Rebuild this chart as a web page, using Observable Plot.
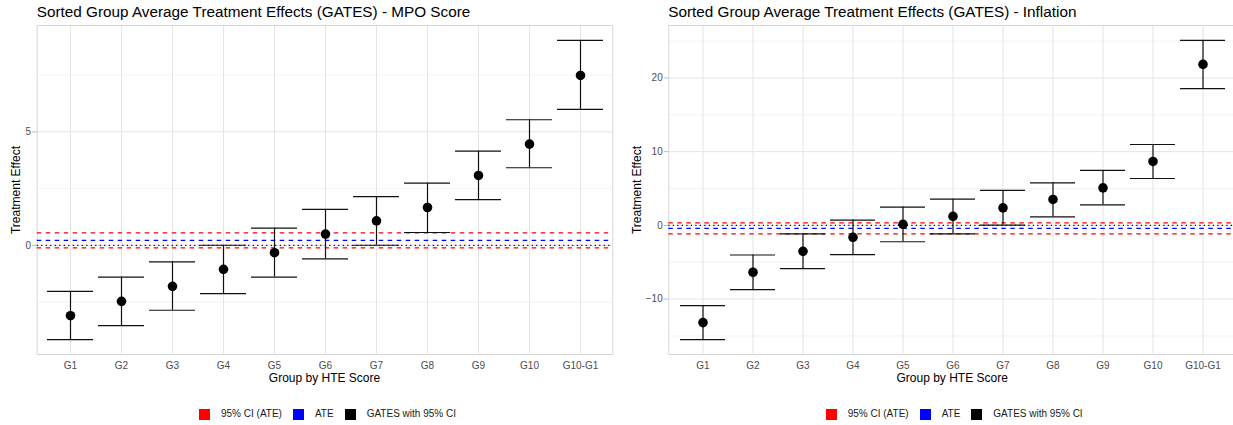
<!DOCTYPE html>
<html>
<head>
<meta charset="utf-8">
<script src="https://cdn.jsdelivr.net/npm/d3@7"></script>
<script src="https://cdn.jsdelivr.net/npm/@observablehq/plot@0.6"></script>
<style>
  body { margin: 0; background: #fff; overflow: hidden; font-family: "Liberation Sans", Arial, sans-serif; }
  #root { position: relative; width: 1233px; height: 425px; overflow: hidden; }
  .title { position: absolute; top: 4px; font-size: 15.3px; line-height: 1; color: #000; white-space: nowrap; }
  .xlab { position: absolute; top: 371.8px; font-size: 12px; line-height: 1; color: #000; white-space: nowrap; transform: translateX(-50%); }
  .ylab { position: absolute; font-size: 12px; line-height: 1; color: #000; white-space: nowrap; transform: translate(-50%, -50%) rotate(-90deg); }
  .legend { position: absolute; top: 407px; height: 14px; display: flex; align-items: center; font-size: 10px; line-height: 14px; color: #1a1a1a; white-space: nowrap; }
  .legend .sw { width: 11px; height: 11px; margin-right: 11px; }
  .legend .lt { margin-right: 11px; }
  svg.panel { position: absolute; top: 20px; }
</style>
</head>
<body>
<div id="root"></div>
<script>
// ---- data ----
const groups = ["G1", "G2", "G3", "G4", "G5", "G6", "G7", "G8", "G9", "G10", "G10-G1"];

const mpoEst   = [-3.09, -2.46, -1.80, -1.05, -0.32, 0.50, 1.08, 1.67, 3.08, 4.46, 7.48];
const mpoLower = [-4.14, -3.53, -2.85, -2.12, -1.39, -0.59, 0.01, 0.57, 2.02, 3.42, 5.99];
const mpoUpper = [-2.02, -1.39, -0.72, 0.01, 0.76, 1.59, 2.15, 2.74, 4.15, 5.53, 9.02];
const mpoAte = 0.22, mpoCiLow = -0.11, mpoCiHigh = 0.55;
const mpoTicks = [0, 5];
const mpoMinor = [-2.5, 2.5, 7.5];

const infEst   = [-13.19, -6.36, -3.52, -1.62, 0.14, 1.22, 2.38, 3.52, 5.09, 8.67, 21.84];
const infLower = [-15.49, -8.72, -5.88, -3.98, -2.22, -1.14, 0.04, 1.16, 2.79, 6.36, 18.55];
const infUpper = [-10.89, -4.02, -1.14, 0.72, 2.48, 3.56, 4.74, 5.77, 7.45, 10.97, 25.09];
const infAte = -0.40, infCiLow = -1.14, infCiHigh = 0.35;
const infTicks = [-10, 0, 10, 20];
const infMinor = [-15, -5, 5, 15, 25];

const titles = [
  "Sorted Group Average Treatment Effects (GATES) - MPO Score",
  "Sorted Group Average Treatment Effects (GATES) - Inflation"
];
const xTitle = "Group by HTE Score";
const yTitle = "Treatment Effect";
const legendLabels = ["95% CI (ATE)", "ATE", "GATES with 95% CI"];
const legendColors = ["#FF0000", "#0000FF", "#000000"];

// ---- drawing ----
const FONT = '"Liberation Sans", Arial, sans-serif';

function panel(est, lo, hi, ate, ciLow, ciHigh, major, minor, o) {
  const data = groups.map((g, i) => ({group: g, est: est[i], lower: lo[i], upper: hi[i]}));
  const vals = lo.concat(hi);
  const mn = d3.min(vals), mx = d3.max(vals), pad = (mx - mn) * 0.05;
  const lw = 1.2;
  const svg = Plot.plot({
    width: o.width, height: 372,
    marginTop: 5, marginBottom: 38, marginLeft: o.ml, marginRight: o.mr,
    style: {fontFamily: FONT, fontSize: "10px", background: "transparent", overflow: "visible"},
    x: {type: "band", domain: groups, paddingInner: 0.1, paddingOuter: 0.15, axis: null},
    y: {domain: [mn - pad, mx + pad], axis: null},
    marks: [
      Plot.ruleY(minor, {stroke: "#EEEEEE", strokeWidth: 0.7}),
      Plot.ruleY(major, {stroke: "#E4E4E4", strokeWidth: 1}),
      Plot.ruleX(groups, {stroke: "#E4E4E4", strokeWidth: 1}),
      Plot.frame({stroke: "#D6D6D6", strokeWidth: 1}),
      Plot.ruleY([ciLow, ciHigh], {stroke: "#FF0000", strokeWidth: lw, strokeDasharray: "4.5,4.5"}),
      Plot.ruleY([ate], {stroke: "#0000FF", strokeWidth: lw, strokeDasharray: "4.5,4.5"}),
      Plot.ruleY([0], {stroke: "#000000", strokeWidth: lw, strokeDasharray: "1.2,3.3"}),
      Plot.ruleX(data, {x: "group", y1: "lower", y2: "upper", stroke: "#111", strokeWidth: lw}),
      Plot.tickY(data, {x: "group", y: "lower", stroke: "#111", strokeWidth: lw}),
      Plot.tickY(data, {x: "group", y: "upper", stroke: "#111", strokeWidth: lw}),
      Plot.dot(data, {x: "group", y: "est", r: 4.8, fill: "#000"}),
      Plot.axisY({ticks: major, tickSize: 4.5, tickPadding: 1.6, stroke: "#BDBDBD", fill: "#4D4D4D", fontSize: 10, label: null}),
      Plot.axisX({tickSize: 0, tickPadding: 7, fill: "#4D4D4D", fontSize: 10, label: null})
    ]
  });
  svg.classList.add("panel");
  svg.style.left = o.left + "px";
  return svg;
}

const root = document.getElementById("root");

const panels = [
  {left: 0, width: 616, ml: 36.7, mr: 3.7, plotL: 36.7, plotR: 612.3, ylabX: 16.2, legendX: 199,
   args: [mpoEst, mpoLower, mpoUpper, mpoAte, mpoCiLow, mpoCiHigh, mpoTicks, mpoMinor]},
  {left: 616, width: 620, ml: 52.3, mr: 0, plotL: 668.3, plotR: 1236, ylabX: 637.3, legendX: 825.7,
   args: [infEst, infLower, infUpper, infAte, infCiLow, infCiHigh, infTicks, infMinor]}
];

panels.forEach((p, k) => {
  root.appendChild(panel(...p.args, p));

  const t = document.createElement("div");
  t.className = "title";
  t.style.left = p.plotL + "px";
  t.textContent = titles[k];
  root.appendChild(t);

  const xl = document.createElement("div");
  xl.className = "xlab";
  xl.style.left = ((p.plotL + p.plotR) / 2) + "px";
  xl.textContent = xTitle;
  root.appendChild(xl);

  const yl = document.createElement("div");
  yl.className = "ylab";
  yl.style.left = p.ylabX + "px";
  yl.style.top = "190px";
  yl.textContent = yTitle;
  root.appendChild(yl);

  const lg = document.createElement("div");
  lg.className = "legend";
  lg.style.left = p.legendX + "px";
  legendLabels.forEach((lab, i) => {
    const sw = document.createElement("span");
    sw.className = "sw";
    sw.style.background = legendColors[i];
    const tx = document.createElement("span");
    tx.className = "lt";
    tx.textContent = lab;
    lg.appendChild(sw);
    lg.appendChild(tx);
  });
  root.appendChild(lg);
});
</script>
</body>
</html>
